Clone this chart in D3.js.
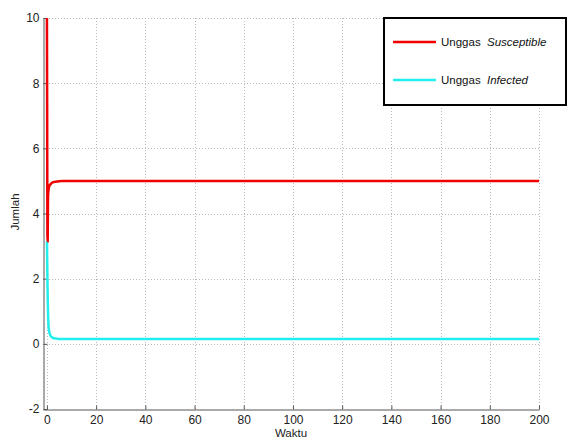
<!DOCTYPE html>
<html><head><meta charset="utf-8">
<script src="https://cdn.jsdelivr.net/npm/d3@7"></script>
<style>body{margin:0;background:#fff}svg{display:block}text{font-family:"Liberation Sans",Arial,sans-serif}</style>
</head><body>
<script>
const time = [0, 0.05, 0.1, 0.15, 0.2, 0.3, 0.4, 0.5, 0.7, 1, 1.5, 2, 3, 4, 5, 6, 8, 10, 20, 50, 100, 150, 200];
const susceptible = [10, 8.5, 6.8, 4.6, 3.3, 3.15, 4.2, 4.6, 4.75, 4.85, 4.9, 4.94, 4.97, 4.98, 4.99, 5.0, 5.0, 5.0, 5.0, 5.0, 5.0, 5.0, 5.0];
const infected = [3.15, 2.9, 2.6, 2.3, 2.0, 1.5, 1.1, 0.8, 0.5, 0.35, 0.25, 0.2, 0.17, 0.16, 0.15, 0.15, 0.15, 0.15, 0.15, 0.15, 0.15, 0.15, 0.15];
const xTicks = [0, 20, 40, 60, 80, 100, 120, 140, 160, 180, 200];
const yTicks = [-2, 0, 2, 4, 6, 8, 10];
const seriesNames = ["Susceptible", "Infected"];
const seriesColors = ["#f00000", "#22eeee"];

const W = 568, H = 439;
const L = 43, R = 539, T = 18, B = 409;
const svg = d3.select("body").append("svg").attr("width", W).attr("height", H);
const x = d3.scaleLinear().domain([-1.6, 200]).range([L, R]);
const y = d3.scaleLinear().domain([-2, 10]).range([B, T]);
const fmt = v => String(v);

// grid
const grid = svg.append("g").attr("stroke", "#b8b8b8").attr("stroke-dasharray", "1,2").attr("stroke-width", 1);
xTicks.forEach(v => grid.append("line").attr("x1", Math.round(x(v)) + 0.5).attr("x2", Math.round(x(v)) + 0.5).attr("y1", T).attr("y2", B));
yTicks.filter(v => v > -2).forEach(v => grid.append("line").attr("y1", Math.round(y(v)) + 0.5).attr("y2", Math.round(y(v)) + 0.5).attr("x1", L).attr("x2", R));

// axes
const xAxis = d3.axisBottom(x).tickValues(xTicks).tickFormat(fmt).tickSizeInner(-4).tickSizeOuter(0).tickPadding(6);
const yAxis = d3.axisLeft(y).tickValues(yTicks).tickFormat(fmt).tickSizeInner(-4).tickSizeOuter(0).tickPadding(4);
const gx = svg.append("g").attr("transform", `translate(0,${B + 0.5})`).call(xAxis);
const gy = svg.append("g").attr("transform", `translate(${L + 0.5},0)`).call(yAxis);
[gx, gy].forEach(g => {
  g.select(".domain").attr("stroke", "#555");
  g.selectAll(".tick line").attr("stroke", "#555");
  g.selectAll("text").attr("font-size", 12).attr("fill", "#222").attr("font-family", "Liberation Sans, Arial, sans-serif");
});

// clip
svg.append("clipPath").attr("id", "clip").append("rect").attr("x", L).attr("y", T - 1).attr("width", R - L + 2).attr("height", B - T + 1);

const line = d3.line().x((d, i) => x(time[i])).y(d => y(d)).curve(d3.curveMonotoneX);
const plot = svg.append("g").attr("clip-path", "url(#clip)");
plot.append("path").datum(infected).attr("d", line).attr("fill", "none").attr("stroke", seriesColors[1]).attr("stroke-width", 2.5);
plot.append("path").datum(susceptible).attr("d", line).attr("fill", "none").attr("stroke", seriesColors[0]).attr("stroke-width", 2.5);

// axis labels
svg.append("text").attr("x", (L + R) / 2).attr("y", 437).attr("text-anchor", "middle").attr("font-size", 11.5).attr("fill", "#222").text("Waktu");
svg.append("text").attr("transform", "translate(19,212) rotate(-90)").attr("text-anchor", "middle").attr("font-size", 11.5).attr("fill", "#222").text("Jumlah");

// legend
const lg = svg.append("g");
lg.append("rect").attr("x", 384).attr("y", 18).attr("width", 182).attr("height", 87).attr("fill", "#fff").attr("stroke", "#000").attr("stroke-width", 2);
seriesNames.forEach((n, i) => {
  const yy = 42 + i * 38;
  lg.append("line").attr("x1", 393).attr("x2", 436).attr("y1", yy).attr("y2", yy).attr("stroke", seriesColors[i]).attr("stroke-width", 2.5);
  const t = lg.append("text").attr("x", 441).attr("y", yy + 4).attr("font-size", 11.5).attr("fill", "#111");
  t.append("tspan").text("Unggas");
  t.append("tspan").attr("x", 487).attr("font-style", "italic").text(n);
});
</script>
</body></html>
